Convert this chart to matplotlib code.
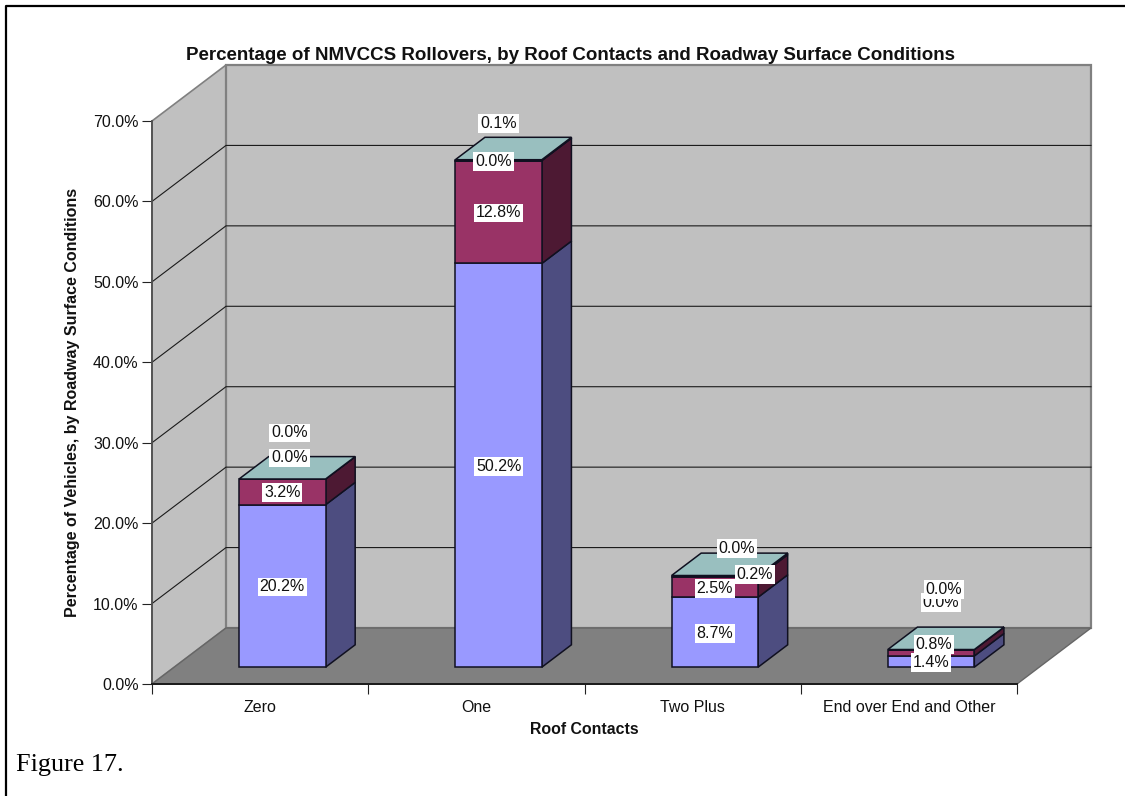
import matplotlib
matplotlib.use("Agg")
import matplotlib.pyplot as plt
from matplotlib.lines import Line2D

W, H = 1125, 796
plt.rcParams['font.family'] = ['Liberation Sans', 'DejaVu Sans']

categories = ['Zero', 'One', 'Two Plus', 'End over End and Other']
series_a = [20.2, 50.2, 8.7, 1.4]
series_b = [3.2, 12.8, 2.5, 0.8]
series_c = [0.0, 0.0, 0.2, 0.0]
series_d = [0.0, 0.1, 0.0, 0.0]
y_ticks = [0, 10, 20, 30, 40, 50, 60, 70]

stack = [series_a, series_b, series_c, series_d]
face_cols = ['#9999FF', '#993366', '#FFFFCC', '#CCFFFF']
side_cols = ['#4D4D80', '#4D1933', '#808066', '#668080']
top_col = '#99BFBF'
# label nudges in pixels (right, up) per series then category
nudges = [
    [(0, -1), (0, -1), (0, -1), (0, -1)],
    [(0, -1), (0, -1), (0, -1), (3, 8.5)],
    [(7, 21), (-5, -1), (40, 2), (10, 47)],
    [(7, 46), (0, 37), (22, 27), (13, 60)],
]

fig = plt.figure(figsize=(W / 100, H / 100), dpi=100)
ax = fig.add_axes([152 / W, (H - 684) / H, 865 / W, 563 / H])
ax.set_xlim(0, 4)
ax.set_ylim(0, 70)
ax.patch.set_visible(False)

DX = 74 / (865 / 4)     # category units per full depth
DY = 56 / (563 / 70)    # percent units per full depth


def p(x, y, d=0.0):
    return x + d * DX, y + d * DY


def poly(pts, fc, ec='none', lw=0.0, z=1):
    ax.fill(*zip(*pts), facecolor=fc, edgecolor=ec, linewidth=lw, zorder=z,
            clip_on=False, joinstyle='miter')


# walls and floor
poly([p(0, 0), p(0, 70), p(0, 70, 1), p(0, 0, 1)], '#C0C0C0', '#808080', 1.2)
poly([p(0, 0, 1), p(0, 70, 1), p(4, 70, 1), p(4, 0, 1)], '#C0C0C0', '#808080', 1.6)
for v in y_ticks[1:-1]:
    xs, ys = zip(p(0, v), p(0, v, 1), p(4, v, 1))
    ax.plot(xs, ys, color='#1A1A1A', lw=0.8, zorder=2, clip_on=False)
poly([p(0, 0), p(4, 0), p(4, 0, 1), p(0, 0, 1)], '#808080', '#666666', 1.0, z=3)

# stacked bars
BAR_L, BAR_W = 0.3, 0.4
D0, D1 = 0.3, 0.7
edge = dict(ec='#101020', lw=1.1)
for i in range(len(categories)):
    x0 = i + BAR_L
    x1 = x0 + BAR_W
    base = 0.0
    for s, vals in enumerate(stack):
        top = base + vals[i]
        poly([p(x1, base, D0), p(x1, top, D0), p(x1, top, D1), p(x1, base, D1)],
             side_cols[s], z=5 + s * 0.1, **edge)
        poly([p(x0, base, D0), p(x1, base, D0), p(x1, top, D0), p(x0, top, D0)],
             face_cols[s], z=5 + s * 0.1, **edge)
        base = top
    poly([p(x0, base, D0), p(x1, base, D0), p(x1, base, D1), p(x0, base, D1)],
         top_col, z=6, **edge)

# data labels
for s, vals in enumerate(stack):
    for i, v in enumerate(vals):
        base = sum(stack[k][i] for k in range(s))
        ax.annotate(f'{v:.1f}%', xy=p(i + 0.5, base + v / 2, D0),
                    xytext=(nudges[s][i][0] * 0.72, nudges[s][i][1] * 0.72),
                    textcoords='offset points', ha='center', va='center',
                    fontsize=11.5, color='#111111', zorder=10 + s,
                    annotation_clip=False,
                    bbox=dict(boxstyle='square,pad=0.12', fc='white', ec='none'))

# axes furniture
for side in ('top', 'right'):
    ax.spines[side].set_visible(False)
ax.spines['left'].set_color('#505050')
ax.spines['left'].set_linewidth(1.3)
ax.spines['bottom'].set_color('#1A1A1A')
ax.spines['bottom'].set_linewidth(1.4)
for sp in ax.spines.values():
    sp.set_zorder(4)
ax.set_yticks(y_ticks)
ax.set_yticklabels([f'{v:.1f}%' for v in y_ticks], fontsize=11.5, color='#111111')
ax.set_xticks(range(len(categories) + 1))
ax.set_xticklabels([])
ax.set_xticks([i + 0.5 for i in range(len(categories))], minor=True)
ax.set_xticklabels(categories, minor=True, fontsize=11.5, color='#111111')
ax.tick_params(axis='x', which='major', length=7.2, width=0.8, color='#222222')
ax.tick_params(axis='x', which='minor', length=0, pad=11.5)
ax.tick_params(axis='y', length=7.2, width=0.8, color='#222222', pad=2.5)

ax.set_xlabel('Roof Contacts', fontsize=11.4, fontweight='bold', color='#111111')
ax.xaxis.set_label_coords(0.5, -(730 - 684) / 563, transform=ax.transAxes)
ax.xaxis.label.set_va('center')
ax.set_ylabel('Percentage of Vehicles, by Roadway Surface Conditions',
              fontsize=11.55, fontweight='bold', color='#111111')
ax.yaxis.set_label_coords((73 - 152) / 865, (684 - 402) / 563, transform=ax.transAxes)
ax.yaxis.label.set_va('center')
ax.set_title('Percentage of NMVCCS Rollovers, by Roof Contacts and Roadway Surface Conditions',
             fontsize=13.5, fontweight='bold', color='#111111', pad=0,
             x=(570 - 152) / 865, y=(684 - 55) / 563, va='center')

fig.text(16 / W, 1 - 765 / H, 'Figure 17.', family='Liberation Serif', fontsize=18.8,
         va='center', ha='left', color='black')

# page frame
fig.add_artist(Line2D([6 / W, 6 / W, 1], [0, 1 - 6 / H, 1 - 6 / H],
                      transform=fig.transFigure, color='black', lw=1.6))

fig.savefig('out.png', dpi=100, facecolor='white')
